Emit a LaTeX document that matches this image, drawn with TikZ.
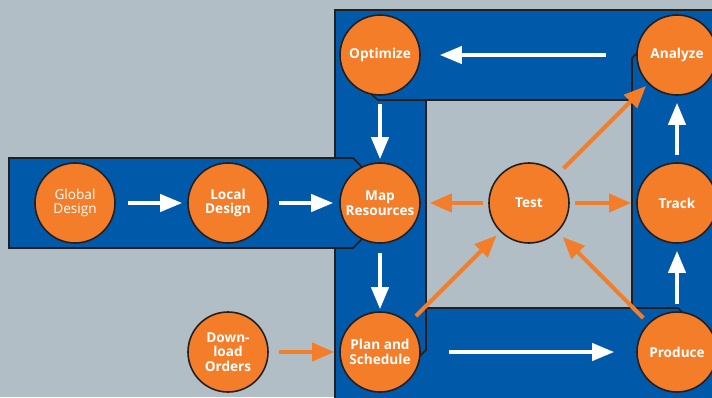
\documentclass[tikz,border=0pt]{standalone}
\usepackage{fontspec}
\setmainfont{Open Sans}
\usetikzlibrary{shapes.geometric, arrows.meta}
\definecolor{bgGrey}{RGB}{178,190,198}
\definecolor{frameBlue}{RGB}{0,89,169}
\definecolor{nodeOrange}{RGB}{244,125,42}
\definecolor{edgeDark}{RGB}{35,31,32}
\tikzstyle{stage} = [circle, minimum size=80pt, inner sep=0pt, align=center, draw=edgeDark, line width=1.6pt, fill=nodeOrange, text=white, font=\fontsize{13.6}{14.5}\selectfont\bfseries]
\tikzstyle{lightstage} = [stage, font=\fontsize{13.6}{14.5}\selectfont]
\tikzstyle{flow} = [line width=4pt, white, -{Triangle[length=22pt,width=17pt]}]
\tikzstyle{feed} = [line width=4pt, nodeOrange, -{Triangle[length=22pt,width=18pt]}]
\tikzstyle{band} = [fill=frameBlue]
\tikzstyle{rim} = [draw=edgeDark, line width=1.6pt]

\begin{document}
\begin{tikzpicture}[x=1pt, y=-1pt]
    \useasboundingbox (0,0) rectangle (712,397);
    \fill[bgGrey] (0,0) rectangle (712,397);
    % blue frame round the test area
    \fill[band] (335,10) rectangle (720,400);
    \fill[bgGrey] (426,100) rectangle (632,308);
    \draw[rim] (335,400) -- (335,10) -- (720,10);
    \draw[rim] (426,100) rectangle (632,308);
    \draw[rim] (372,95) -- (378,100) -- (426,100);
    \draw[rim] (632,100) -- (632,58) -- (640,50);
    \draw[rim] (632,308) -- (678,308) -- (686,316);
    \draw[rim] (426,308) -- (426,350) -- (416,360);
    % design bar
    \filldraw[band, rim] (9,158) -- (353,158) -- (370,175) -- (370,231) -- (353,248) -- (9,248) -- cycle;

    \node (global) [lightstage] at (75,203) {Global\\Design};
    \node (local) [stage] at (228,203) {Local\\Design};
    \node (map) [stage] at (380,203) {Map\\Resources};
    \node (optimize) [stage] at (380,55) {Optimize};
    \node (analyze) [stage] at (677,55) {Analyze};
    \node (track) [stage] at (677,203) {Track};
    \node (test) [stage] at (529,203) {Test};
    \node (plan) [stage] at (380,352) {Plan and\\Schedule};
    \node (produce) [stage] at (677,352) {Produce};
    \node (download) [stage] at (228,352) {Down-\\load\\Orders};

    \draw[flow, shorten <=12pt, shorten >=5pt] (global) -- (local);
    \draw[flow, shorten <=10pt, shorten >=6pt] (local) -- (map);
    \draw[flow, shorten <=8pt, shorten >=3pt] (optimize) -- (map);
    \draw[flow, shorten <=9pt, shorten >=2pt] (map) -- (plan);
    \draw[flow, shorten <=30pt, shorten >=19pt] (analyze) -- (optimize);
    \draw[flow, shorten <=28pt, shorten >=22pt] (plan) -- (produce);
    \draw[flow, shorten <=7pt, shorten >=7pt] (produce) -- (track);
    \draw[flow, shorten <=7pt, shorten >=7pt] (track) -- (analyze);
    \draw[feed, shorten <=5pt, shorten >=9pt] (test) -- (map);
    \draw[feed, shorten <=5pt, shorten >=5pt] (test) -- (track);
    \draw[feed, shorten <=8pt, shorten >=3pt] (test) -- (analyze);
    \draw[feed, shorten <=10pt, shorten >=5pt] (plan) -- (test);
    \draw[feed, shorten <=7pt, shorten >=7pt] (produce) -- (test);
    \draw[feed, shorten <=10pt, shorten >=5pt] (download) -- (plan);
\end{tikzpicture}
\end{document}
